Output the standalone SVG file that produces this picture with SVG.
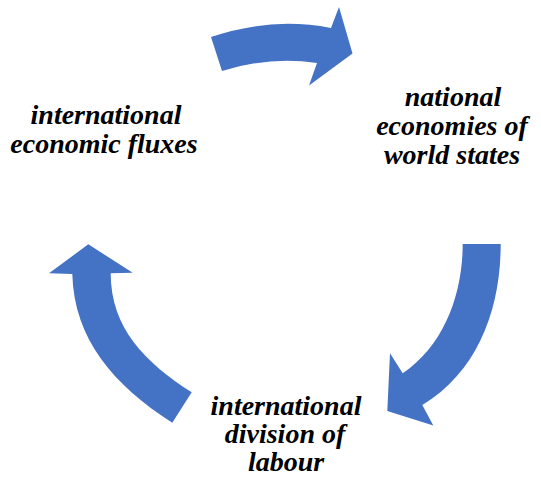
<svg xmlns="http://www.w3.org/2000/svg" width="541" height="485" viewBox="0 0 541 485">
  <style>
    .arrow { fill: #4472C4; stroke: none; }
    .label { font-family: 'Liberation Serif', serif; font-size: 28px; font-weight: bold; font-style: italic; fill: #000000; text-anchor: middle; }
  </style>
  <rect x="0" y="0" width="541" height="485" fill="#ffffff"/>

  <!-- curved block arrows of the cycle -->
  <g id="connectors">
    <path id="arrow-top" class="arrow" d="M 211,37 Q 271,16.5 331,28 L 339,7 L 352.5,53.5 L 309,85.5 L 317,63 Q 269.5,56 222,71 Z"/>
    <path id="arrow-right" class="arrow" d="M 462.7,244 L 500.7,244 C 500.7,309 478,371.4 422.3,405 L 433.3,425.5 L 387.3,411 L 390,353.3 L 402.7,373.3 C 444.2,345.3 462.7,294 462.7,244 Z"/>
    <path id="arrow-left" class="arrow" d="M 191.7,392.3 L 172.3,422.7 C 113.3,385 74,339 72.3,274 L 49,273.3 L 88.3,244.3 L 132.7,272.7 L 110.7,273.3 C 110.7,328.3 145.3,362.7 191.7,392.3 Z"/>
  </g>

  <g id="node-fluxes">
    <text class="label" x="106" y="124">international</text>
    <text class="label" x="104" y="153">economic fluxes</text>
  </g>

  <g id="node-national">
    <text class="label" x="453" y="106">national</text>
    <text class="label" x="452" y="135">economies of</text>
    <text class="label" x="452" y="164">world states</text>
  </g>

  <g id="node-division">
    <text class="label" x="286" y="415">international</text>
    <text class="label" x="285" y="443">division of</text>
    <text class="label" x="286" y="471">labour</text>
  </g>
</svg>
